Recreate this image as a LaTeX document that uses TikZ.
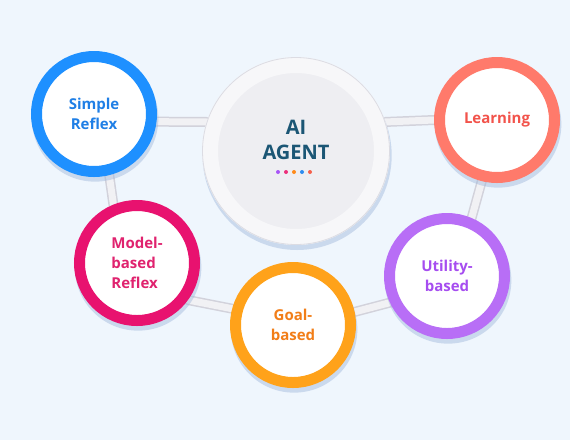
\documentclass[tikz,border=0pt]{standalone}
\usepackage{fontspec}
\setmainfont{Open Sans}
\usepackage{xcolor}
\usetikzlibrary{positioning,calc,shadows,backgrounds}
\definecolor{bgblue}{HTML}{EFF6FD}
\definecolor{shadowblue}{HTML}{9FB6DA}
\definecolor{linkedge}{HTML}{D2D2DB}
\definecolor{linkfill}{HTML}{F1F1F4}
\definecolor{agentrim}{HTML}{F7F7F9}
\definecolor{agentedge}{HTML}{DCDCE3}
\definecolor{agentface}{HTML}{EEEEF2}
\definecolor{agentteal}{HTML}{1B5675}
\definecolor{reflexblue}{HTML}{1E90FF}
\definecolor{reflextext}{HTML}{1F7FE6}
\definecolor{modelpink}{HTML}{E8126F}
\definecolor{modeltext}{HTML}{E0236F}
\definecolor{goalorange}{HTML}{FFA21A}
\definecolor{goaltext}{HTML}{F27E18}
\definecolor{utilpurple}{HTML}{B86EF6}
\definecolor{utiltext}{HTML}{A64DF0}
\definecolor{learnred}{HTML}{FF7A6B}
\definecolor{learntext}{HTML}{F2534B}
\definecolor{dotpurple}{HTML}{A855F7}
\definecolor{dotpink}{HTML}{EC2F7B}
\definecolor{dotorange}{HTML}{FF8A1A}
\definecolor{dotblue}{HTML}{2D8CF0}
\definecolor{dotred}{HTML}{F5604C}

\begin{document}
\begin{tikzpicture}[x=1pt,y=-1pt,
    ring/.style={circle,draw=#1,line width=11pt,fill=white,minimum size=115pt,inner sep=0pt,
        font=\bfseries\fontsize{15}{20}\selectfont,align=center,
        drop shadow={shadow scale=1.1,shadow xshift=1pt,shadow yshift=-4pt,fill=shadowblue,opacity=.45}},
    link/.style={draw=linkedge,line width=1.5pt,double=linkfill,double distance=7pt,line cap=round}]

    % Central agent disc
    \node[circle,draw=agentrim,line width=16pt,fill=agentface,minimum size=172pt,inner sep=0pt,
        drop shadow={shadow scale=1.1,shadow xshift=1pt,shadow yshift=-4pt,fill=shadowblue,opacity=.45}]
        (agent) at (296,151) {};
    \draw[agentedge,line width=.8pt] (agent.center) circle (93.5pt);
    \node[font=\bfseries\fontsize{20}{25}\selectfont,text=agentteal,align=center]
        (agentlabel) at ([yshift=11pt]agent.center) {AI\\AGENT};
    \foreach \c [count=\i] in {dotpurple,dotpink,dotorange,dotblue,dotred}
        \fill[\c] ($(agent.center)+(-26+8*\i,21)$) circle (2pt);

    % Agent types
    \node[ring=reflexblue,text=reflextext] (simple) at (94,114) {Simple\\Reflex};
    \node[ring=learnred,text=learntext] (learning) at (497,120) {Learning};
    \node[ring=modelpink,text=modeltext,align=left] (model) at (137,263) {Model-\\based\\Reflex};
    \node[ring=goalorange,text=goaltext] (goal) at (293,325) {Goal-\\based};
    \node[ring=utilpurple,text=utiltext] (utility) at (447,276) {Utility-\\based};

    % Background and links
    \begin{scope}[on background layer]
        \fill[bgblue] (0,0) rectangle (570,440);
        \draw[link] (simple.-7) -- (agent.162);
        \draw[link] (agent.18) -- (learning.180);
        \draw[link] (simple.-76) -- (model.112);
        \draw[link] (model.-36) -- (goal.165);
        \draw[link] (goal.12) -- (utility.205);
        \draw[link] (learning.-104) -- (utility.67);
    \end{scope}
\end{tikzpicture}
\end{document}
